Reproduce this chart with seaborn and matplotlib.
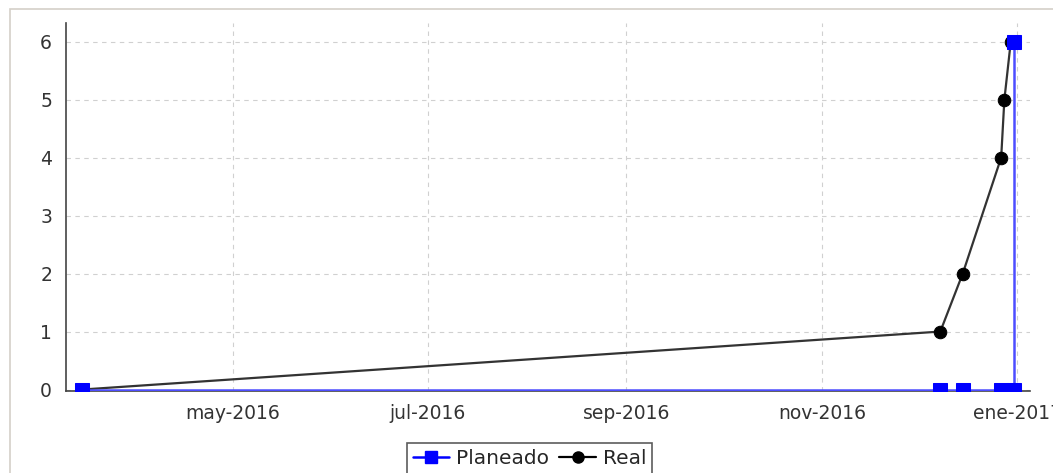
import numpy as np
import pandas as pd
import matplotlib
matplotlib.use('Agg')
import matplotlib.pyplot as plt
from matplotlib.lines import Line2D
from matplotlib.patches import Rectangle
import seaborn as sns

## datos
plan_dates = ['2016-03-15', '2016-12-08', '2016-12-15', '2016-12-27', '2016-12-31', '2016-12-31']
plan_vals  = [0, 0, 0, 0, 0, 6]
real_dates = ['2016-03-15', '2016-12-08', '2016-12-15', '2016-12-27', '2016-12-28', '2016-12-30']
real_vals  = [0, 1, 2, 4, 5, 6]
tick_dates  = ['2016-05-01', '2016-07-01', '2016-09-01', '2016-11-01', '2017-01-01']
tick_labels = ['may-2016', 'jul-2016', 'sep-2016', 'nov-2016', 'ene-2017']

plan = pd.DataFrame({'fecha': pd.to_datetime(plan_dates), 'valor': plan_vals})
real = pd.DataFrame({'fecha': pd.to_datetime(real_dates), 'valor': real_vals})

sns.set_style('white')
plt.rcParams['font.family'] = ['DejaVu Sans']

fig = plt.figure(figsize=(10.53, 4.73), dpi=100)
W, H = 1053, 473
ax = fig.add_axes([66 / W, 1 - 391 / H, (1030 - 66) / W, (391 - 23) / H])

# borde del panel
fig.patches.append(Rectangle((10 / W, -0.1), 1.2, 1 - 9 / H + 0.1, transform=fig.transFigure,
                             fill=False, edgecolor='#d4d0c8', linewidth=1.2))

sns.lineplot(data=real, x='fecha', y='valor', ax=ax, color='#333333', linewidth=1.6,
             marker='o', markersize=9, markerfacecolor='black', markeredgecolor='black',
             estimator=None, sort=False, zorder=3)
sns.lineplot(data=plan, x='fecha', y='valor', ax=ax, color='#4d4dff', linewidth=1.8,
             marker='s', markersize=10, markerfacecolor='#0000ff', markeredgecolor='#0000ff',
             estimator=None, sort=False, zorder=4)

ax.set_xlim(pd.Timestamp('2016-03-10'), pd.Timestamp('2017-01-05'))
ax.set_ylim(-0.025, 6.32)
ax.set_xticks(pd.to_datetime(tick_dates))
ax.set_xticklabels(tick_labels)
ax.set_yticks(range(0, 7))
ax.set_xlabel('')
ax.set_ylabel('')

ax.grid(True, linestyle=(0, (4, 4)), color='#d0d0d0', linewidth=0.8)
for s in ['top', 'right']:
    ax.spines[s].set_visible(False)
for s in ['left', 'bottom']:
    ax.spines[s].set_color('#444444')
    ax.spines[s].set_linewidth(1.2)
ax.tick_params(axis='both', direction='out', length=4, width=1, color='#444444',
               labelsize=13.5, labelcolor='#333333', pad=6)
ax.tick_params(axis='x', pad=5)

handles = [Line2D([], [], color='#0000ff', marker='s', markersize=9, linewidth=1.8),
           Line2D([], [], color='black', marker='o', markersize=8, linewidth=1.6)]
leg = fig.legend(handles, ['Planeado', 'Real'], loc='upper center',
                 bbox_to_anchor=(0.503, 1 - 433 / H), ncol=2, fontsize=14.5,
                 frameon=True, fancybox=False, handlelength=1.8, handletextpad=0.35,
                 columnspacing=0.5, borderpad=0.3)
leg.get_frame().set_edgecolor('#333333')
leg.get_frame().set_linewidth(1.2)

fig.savefig('out.png', dpi=100)
